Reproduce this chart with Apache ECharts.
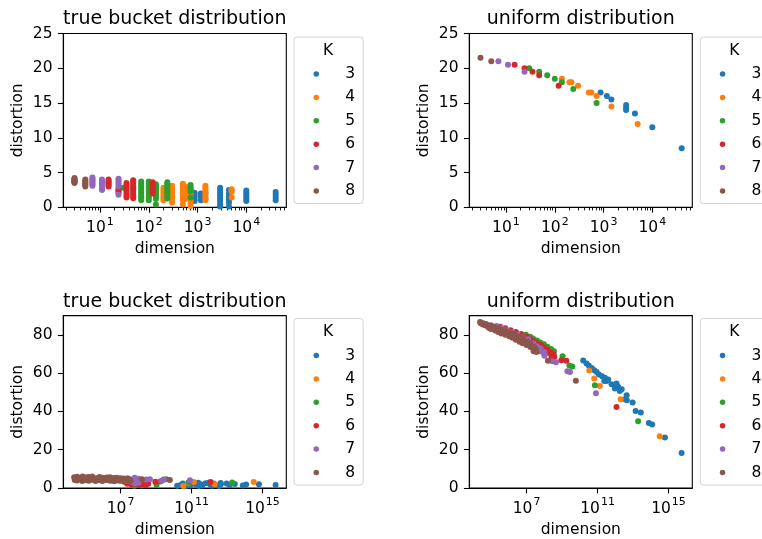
<!DOCTYPE html>
<html>
<head>
<meta charset="utf-8">
<script src="https://cdn.jsdelivr.net/npm/echarts@6/dist/echarts.min.js"></script>
<style>
html,body{margin:0;padding:0;background:#fff;}
#chart{width:762px;height:539px;}
</style>
</head>
<body>
<div id="chart"></div>
<script>
// ---------- data ----------
const kNames = ['3', '4', '5', '6', '7', '8'];
const colors = ['#1f77b4', '#ff7f0e', '#2ca02c', '#d62728', '#9467bd', '#8c564b'];
const titles = ['true bucket distribution', 'uniform distribution', 'true bucket distribution', 'uniform distribution'];

// top row: [dimension, distortion]
const tbTop3 = [[870,0.9],[870,1.2],[870,1.5],[870,1.8],[870,2.1],[1170,1.0],[1170,1.5],[1170,2.0],[1450,1.2],[1450,2.0],
  [2900,0.1],[2900,0.5],[2900,0.9],[2900,1.3],[2900,1.7],[2900,2.1],[2900,2.5],[2900,2.8],
  [4400,0.1],[4400,0.7],[4400,1.1],[4400,1.5],[4400,2.0],[4400,2.5],
  [10000,0.9],[10000,1.2],[10000,1.5],[10000,1.8],[10000,2.1],[10000,2.4],
  [40000,1.0],[40000,1.4],[40000,1.8],[40000,2.2]];
const tbTop4 = [[140,2.0],[140,2.6],[200,1.0],[200,1.3],[200,1.6],[200,1.9],[200,2.2],[200,2.5],[200,2.8],
  [220,1.2],[220,1.6],[220,2.0],[220,2.4],[220,2.8],
  [300,0.7],[300,1.0],[300,1.3],[300,1.6],[300,1.9],[300,2.2],[300,2.5],[300,2.8],[300,3.1],
  [500,0.4],[500,1.0],[500,1.3],[500,1.6],[500,1.9],[500,2.2],[500,2.5],[500,2.8],[500,3.1],[500,3.4],
  [560,1.2],[560,1.5],[560,1.8],[560,2.1],[560,2.4],[560,2.7],[560,3.0],
  [720,0.2],[720,0.6],[720,1.0],[720,1.5],[720,2.0],[720,2.5],
  [1450,1.0],[1450,1.3],[1450,1.6],[1450,1.9],[1450,2.2],[1450,2.5],[1450,2.8],[1450,3.1],
  [5000,1.4],[5000,2.2],[5000,2.4],[5000,2.6]];
const tbTop5 = [[30,2.8],[48,2.7],
  [70,1.0],[70,1.3],[70,1.6],[70,1.9],[70,2.2],[70,2.5],[70,2.8],[70,3.1],[70,3.4],[70,3.7],
  [100,1.0],[100,1.3],[100,1.6],[100,1.9],[100,2.2],[100,2.5],[100,2.8],[100,3.1],[100,3.4],[100,3.7],
  [140,0.4],[140,1.2],[140,1.5],[140,1.8],[140,2.1],[140,2.4],[140,2.7],[140,3.0],[140,3.3],
  [240,1.3],[240,1.6],[240,1.9],[240,2.2],[240,2.5],[240,2.8],[240,3.1],[240,3.4],[240,3.6],
  [720,1.4],[720,2.3],[720,2.6],[720,2.9],[720,3.2]];
const tbTop6 = [[15,3.0],[15,3.2],[15,3.4],[15,3.6],[15,3.8],[15,4.0],
  [24,2.1],[24,2.3],[24,2.5],[24,2.7],
  [35,1.4],[35,1.7],[35,2.0],[35,2.3],[35,2.6],[35,2.9],[35,3.2],[35,3.5],
  [48,1.3],[48,1.6],[48,1.9],[48,2.2],[48,2.5],[48,2.8],[48,3.1],[48,3.4],[48,3.7],[48,3.9],
  [120,2.0],[120,2.4],[120,2.7],[120,3.0],[120,3.3],[120,3.6]];
const tbTop7 = [[7,3.1],[7,3.3],[7,3.5],[7,3.7],[7,3.9],[7,4.1],[7,4.3],
  [11,2.5],[11,2.8],[11,3.0],[11,3.2],[11,3.5],[11,3.7],[11,4.0],
  [24,1.8],[24,3.0],[24,3.3],[24,3.6],[24,3.9],[24,4.1]];
const tbTop8 = [[3,3.5],[3,3.6],[3,3.7],[3,3.8],[3,3.9],[3,4.0],[3,4.1],[3,4.2],
  [5,3.0],[5,3.2],[5,3.4],[5,3.6],[5,3.8],[5,4.0]];

const ufTop3 = [[870,16.5],[1170,16.0],[1450,15.5],[2900,14.7],[2900,14.3],[2900,14.0],[4400,13.5],[10000,11.5],[40000,8.5]];
const ufTop4 = [[140,18.5],[200,18.0],[220,18.0],[300,17.5],[500,16.5],[560,16.5],[720,16.0],[1450,14.5],[5000,12.0]];
const ufTop5 = [[30,20.0],[48,19.5],[70,19.0],[100,18.5],[140,18.0],[240,17.0],[720,15.0]];
const ufTop6 = [[15,20.5],[24,20.0],[35,19.5],[48,19.0],[120,17.5]];
const ufTop7 = [[7,21.0],[11,20.5],[24,19.5]];
const ufTop8 = [[3,21.5],[5,21.0]];

// bottom row: dimensions and distortions
const dimsBot3 = [1.55e10,2.4e10,3.2e10,4.7e10,6.5e10,8.9e10,1.2e11,1.8e11,2.6e11,2.4e11,3.2e11,4.0e11,6.2e11,1.17e12,
  9.5e11,1.45e12,1.8e12,2.3e12,4.4e12,3.5e12,4.5e12,9.5e12,1.4e13,2.75e13,7.8e13,1.2e14,6.3e14,5.5e15];
const tbBot3 = [1.2,1.6,2.4,1.0,2.2,1.4,2.6,1.8,1.1,2.7,2.0,1.3,2.5,1.7,2.8,1.2,2.3,1.6,2.6,1.0,1.9,2.3,1.5,2.1,1.3,1.8,2.0,1.6];
const ufBot3 = [66.5,65.0,63.9,62.7,61.5,60.5,59.3,58.4,57.5,55.8,55.8,56.7,54.1,54.6,51.9,52.9,50.6,51.5,48.4,46.3,45.8,44.6,40.2,39.4,33.9,33.2,26.4,18.3];

const dimsBot4 = [3.4e10,6.5e10,1.35e11,2.0e12,3.2e14];
const tbBot4 = [1.0,2.6,3.1,1.9,3.1];
const ufBot4 = [61.3,57.2,53.2,46.3,27.0];

const dimsBot5 = [9.1e6,1.6e7,2.3e7,2.7e7,3.8e7,4.3e7,6.0e7,6.6e7,9.5e7,1.05e8,1.5e8,1.7e8,2.4e8,2.7e8,3.5e8,1.07e9,2.6e9,3.8e9,7.1e10,1.95e13];
const tbBot5 = [3.8,3.2,2.6,3.9,2.2,3.4,1.2,2.8,3.6,2.0,1.3,3.0,2.4,3.8,2.6,1.6,4.3,4.6,3.0,2.9];
const ufBot5 = [80.0,79.0,78.0,77.0,77.0,76.0,76.0,75.0,75.0,73.8,73.8,72.6,72.6,71.2,71.4,68.8,64.0,63.4,53.7,34.9];

const dimsBot6 = [3.2e5,6.3e5,1.26e6,2.5e6,5.0e6,1.0e7,1.6e7,2.4e7,2.6e7,3.9e7,4.1e7,6.2e7,6.4e7,9.8e7,1.02e8,1.55e8,1.65e8,2.4e8,2.5e8,2.6e8,3.4e8,3.6e8,9.1e8,1.74e9,1.17e12];
const tbBot6 = [4.8,5.0,4.4,4.6,3.8,4.2,3.4,2.2,4.6,3.0,1.8,3.6,2.4,4.0,1.6,3.2,2.0,3.8,2.6,1.4,3.0,2.2,3.2,3.4,3.1];
const ufBot6 = [84.2,83.4,82.4,81.4,80.4,79.0,77.8,76.8,75.4,75.6,74.2,74.6,73.0,73.4,71.8,72.2,70.6,70.8,69.4,68.2,69.6,68.4,66.7,66.4,42.3];

const dimsBot7 = [1.0e5,2.0e5,4.0e5,7.9e5,1.6e6,3.2e6,6.3e6,1.26e7,2.4e7,2.6e7,3.9e7,4.1e7,6.2e7,6.4e7,9.8e7,1.0e8,1.02e8,2.8e8,4.5e8,2.0e9,2.8e9,8.1e10];
const tbBot7 = [4.4,5.0,4.6,5.2,4.2,4.8,4.0,4.6,3.9,5.0,4.4,3.2,5.4,2.4,4.8,3.6,2.8,4.4,4.6,3.6,4.4,4.0];
const ufBot7 = [85.0,84.6,83.4,82.4,81.2,80.0,78.6,77.6,75.6,74.0,74.0,72.4,72.8,71.2,71.0,70.0,69.0,66.2,65.6,61.0,60.5,49.4];

const dimsBot8 = [2.4e4,2.6e4,3.4e4,3.6e4,4.8e4,5.1e4,6.8e4,7.2e4,7.5e4,9.6e4,1.0e5,1.05e5,1.5e5,1.6e5,1.7e5,2.4e5,2.5e5,2.6e5,
  3.8e5,3.9e5,4.1e5,6.1e5,6.4e5,6.5e5,9.5e5,1.0e6,1.05e6,1.55e6,1.6e6,1.7e6,2.4e6,2.5e6,2.6e6,3.9e6,4.0e6,4.1e6,
  6.0e6,6.2e6,6.5e6,9.6e6,1.0e7,1.1e7,1.55e7,1.6e7,1.65e7,2.4e7,2.5e7,2.6e7,3.4e7,3.6e7,1.6e8,6.0e9];
const tbBot8 = [5.6,4.2,3.9,5.9,4.5,5.2,3.7,6.0,4.8,5.0,5.5,4.1,5.8,3.8,4.6,4.3,6.0,5.4,
  4.7,3.6,5.1,4.0,4.9,5.7,3.7,5.3,4.5,4.2,4.8,5.5,5.0,5.6,3.8,5.2,3.6,4.4,
  5.4,4.9,4.1,3.9,5.1,4.6,4.9,4.3,3.7,4.0,5.0,4.5,4.2,3.6,4.6,4.2];
const ufBot8 = [86.6,86.0,85.3,86.0,84.8,85.6,84.2,85.0,83.6,83.0,84.6,83.7,84.0,83.0,82.2,82.4,81.4,83.4,
  80.6,82.6,81.6,81.0,80.0,82.0,80.2,81.2,79.2,79.4,78.4,80.6,79.8,77.4,78.6,77.8,76.4,79.0,
  75.6,78.2,76.8,75.8,74.6,76.4,74.8,75.4,73.6,72.8,71.4,73.8,72.4,71.0,66.4,56.0];

// axis ticks
const topXTicks = [10, 100, 1000, 10000];
const topXMinor = [2,3,4,5,6,7,8,9,20,30,40,50,60,70,80,90,200,300,400,500,600,700,800,900,
  2000,3000,4000,5000,6000,7000,8000,9000,20000,30000,40000,50000,60000];
const botXTicks = [1e7, 1e11, 1e15];
const topYTicks = [0, 5, 10, 15, 20, 25];
const botYTicks = [0, 20, 40, 60, 80];

// ---------- chart ----------
const FONT = 'DejaVu Sans';
const FS = 15.5;
const zip = (xs, ys) => xs.map((x, i) => [x, ys[i]]);

const panels = [
  [tbTop3, tbTop4, tbTop5, tbTop6, tbTop7, tbTop8],
  [ufTop3, ufTop4, ufTop5, ufTop6, ufTop7, ufTop8],
  [zip(dimsBot3, tbBot3), zip(dimsBot4, tbBot4), zip(dimsBot5, tbBot5), zip(dimsBot6, tbBot6), zip(dimsBot7, tbBot7), zip(dimsBot8, tbBot8)],
  [zip(dimsBot3, ufBot3), zip(dimsBot4, ufBot4), zip(dimsBot5, ufBot5), zip(dimsBot6, ufBot6), zip(dimsBot7, ufBot7), zip(dimsBot8, ufBot8)]
];

const gridPos = [
  {left: 63.3, top: 33.5},
  {left: 469.3, top: 33.5},
  {left: 63.3, top: 315.6},
  {left: 469.3, top: 315.6}
];
const GW = 223, GH = 173.8;

function supFmt(v) {
  const e = Math.round(Math.log10(v));
  return '{b|10}{s|' + e + '}';
}
const supRich = {
  b: {fontSize: FS, fontFamily: FONT, color: '#000', verticalAlign: 'bottom', lineHeight: 20},
  s: {fontSize: 11, fontFamily: FONT, color: '#000', verticalAlign: 'top', lineHeight: 11, padding: [0, 0, 0, 1]}
};

const lineStyle = {color: '#000', width: 1.1};

function xMain(gi, min, max, ticks) {
  return {
    type: 'log', logBase: 10, gridIndex: gi, position: 'bottom', min: min, max: max,
    name: 'dimension', nameLocation: 'middle', nameGap: 34,
    nameTextStyle: {fontSize: FS, fontFamily: FONT, color: '#000'},
    axisLine: {show: true, onZero: false, lineStyle: lineStyle},
    axisTick: {show: true, length: 5.4, lineStyle: lineStyle, customValues: ticks},
    axisLabel: {show: true, customValues: ticks, margin: 9, formatter: supFmt, rich: supRich,
      fontSize: FS, fontFamily: FONT, color: '#000'},
    splitLine: {show: false}, minorTick: {show: false}, minorSplitLine: {show: false}
  };
}
function xMinor(gi, min, max, ticks) {
  return {
    type: 'log', logBase: 10, gridIndex: gi, position: 'bottom', min: min, max: max,
    axisLine: {show: false, onZero: false},
    axisTick: {show: true, length: 3.1, lineStyle: {color: '#000', width: 0.9}, customValues: ticks},
    axisLabel: {show: false},
    splitLine: {show: false}
  };
}
function yAx(gi, max, interval, ticks) {
  return {
    type: 'value', gridIndex: gi, min: 0, max: max, interval: interval,
    name: 'distortion', nameLocation: 'middle', nameGap: 37, nameRotate: 90,
    nameTextStyle: {fontSize: FS, fontFamily: FONT, color: '#000'},
    axisLine: {show: true, onZero: false, lineStyle: lineStyle},
    axisTick: {show: true, length: 5.4, lineStyle: lineStyle, customValues: ticks},
    axisLabel: {show: true, customValues: ticks, margin: 10.8, fontSize: FS, fontFamily: FONT, color: '#000'},
    splitLine: {show: false}
  };
}
function legendAt(left, top) {
  return {
    orient: 'vertical', left: left, top: top, data: kNames, icon: 'circle',
    itemWidth: 20, itemHeight: 5.5, itemGap: 7.4, padding: [29, 8, 4.5, 19.5],
    backgroundColor: 'rgba(255,255,255,0.8)', borderColor: '#d4d4d4', borderWidth: 1, borderRadius: 3,
    selectedMode: false,
    textStyle: {fontSize: FS, fontFamily: FONT, color: '#000', lineHeight: 16, padding: [0, 0, 0, 14]}
  };
}

const series = [];
panels.forEach((sets, gi) => {
  sets.forEach((data, k) => {
    series.push({
      type: 'scatter', name: kNames[k], xAxisIndex: gi, yAxisIndex: gi, data: data,
      symbol: 'circle', symbolSize: 6,
      itemStyle: {color: colors[k], opacity: 1},
      emphasis: {disabled: true}
    });
  });
});

const graphic = [];
gridPos.forEach((g, i) => {
  graphic.push({
    type: 'text', z: 100, x: g.left + GW / 2, y: g.top - 14,
    style: {text: titles[i], fontSize: 19, fontFamily: FONT, fill: '#000',
      align: 'center', verticalAlign: 'middle', textAlign: 'center', textVerticalAlign: 'middle'}
  });
});
const legPos = [[294, 37], [700.3, 37], [294, 318.5], [700.3, 318.5]];
legPos.forEach(p => {
  graphic.push({
    type: 'text', z: 100, x: p[0] + 34, y: p[1] + 13.8,
    style: {text: 'K', fontSize: FS, fontFamily: FONT, fill: '#000',
      align: 'center', verticalAlign: 'middle', textAlign: 'center', textVerticalAlign: 'middle'}
  });
});

const option = {
  animation: false,
  backgroundColor: '#fff',
  textStyle: {fontFamily: FONT},
  grid: gridPos.map(g => ({left: g.left, top: g.top, width: GW, height: GH, show: true,
    borderColor: '#000', borderWidth: 1.1, backgroundColor: 'transparent', containLabel: false})),
  xAxis: [
    xMain(0, 1.77, 66000, topXTicks),
    xMain(1, 1.77, 66000, topXTicks),
    xMain(2, 5900, 2.2e16, botXTicks),
    xMain(3, 5900, 2.2e16, botXTicks),
    xMinor(0, 1.77, 66000, topXMinor),
    xMinor(1, 1.77, 66000, topXMinor)
  ],
  yAxis: [
    yAx(0, 25, 5, topYTicks),
    yAx(1, 25, 5, topYTicks),
    yAx(2, 90, 10, botYTicks),
    yAx(3, 90, 10, botYTicks)
  ],
  legend: legPos.map(p => legendAt(p[0], p[1])),
  graphic: graphic,
  series: series
};

const chart = echarts.init(document.getElementById('chart'));
chart.setOption(option);
</script>
</body>
</html>
